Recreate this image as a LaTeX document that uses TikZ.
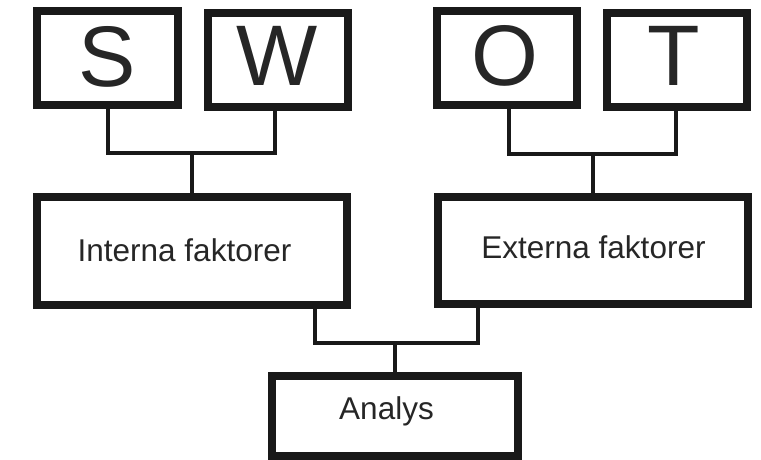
\documentclass[tikz,border=0pt]{standalone}
\usepackage{fontspec}
\setmainfont{Liberation Sans}
\begin{document}
\begin{tikzpicture}[x=1pt,y=-1pt,
  box/.style={draw=black!90, line width=7.5pt, minimum width=#1, inner sep=0pt, outer sep=3.75pt},
  conn/.style={draw=black!90, line width=4.3pt},
  big/.style={anchor=base, inner sep=0pt, text=black!85, font=\fontsize{86}{86}\selectfont},
  lbl/.style={anchor=base, inner sep=0pt, text=black!85, font=\fontsize{31.5}{31.5}\selectfont}]
\useasboundingbox (0,0) rectangle (761,460);
% letter boxes
\node[box=141pt, minimum height=94pt] (S) at (107.5,58) {};
\node[box=140pt, minimum height=94pt] (W) at (278,60) {};
\node[box=140pt, minimum height=94pt] (O) at (507,58) {};
\node[box=140pt, minimum height=94pt] (T) at (677,60) {};
% factor boxes
\node[box=310pt, minimum height=108pt] (Interna) at (192,251) {};
\node[box=310pt, minimum height=107pt] (Externa) at (593,250.5) {};
\node[box=246pt, minimum height=80pt] (Analys) at (395,416) {};
% texts
\node[big] (tS) at (107,87) {S};
\node[big] (tW) at (277.5,86) {W};
\node[big] (tO) at (504.5,86) {O};
\node[big] (tT) at (673.5,86) {T};
\node[lbl] (tI) at (184.5,261) {Interna faktorer};
\node[lbl] (tE) at (593.5,258) {Externa faktorer};
\node[lbl] (tA) at (386.5,419) {Analys};
% junction coordinates
\coordinate (swL) at (108,153);
\coordinate (swR) at (275,153);
\coordinate (otL) at (509,154);
\coordinate (otR) at (676,154);
\coordinate (ieL) at (315,343);
\coordinate (ieR) at (478,343);
% connectors
\draw[conn] (swL |- S.south) -- (swL) -- (swR) -- (swR |- W.south);
\draw[conn] (Interna.north) -- (Interna.north |- swL);
\draw[conn] (otL |- O.south) -- (otL) -- (otR) -- (otR |- T.south);
\draw[conn] (Externa.north) -- (Externa.north |- otL);
\draw[conn] (ieL |- Interna.south) -- (ieL) -- (ieR) -- (ieR |- Externa.south);
\draw[conn] (Analys.north) -- (Analys.north |- ieL);
\end{tikzpicture}
\end{document}
